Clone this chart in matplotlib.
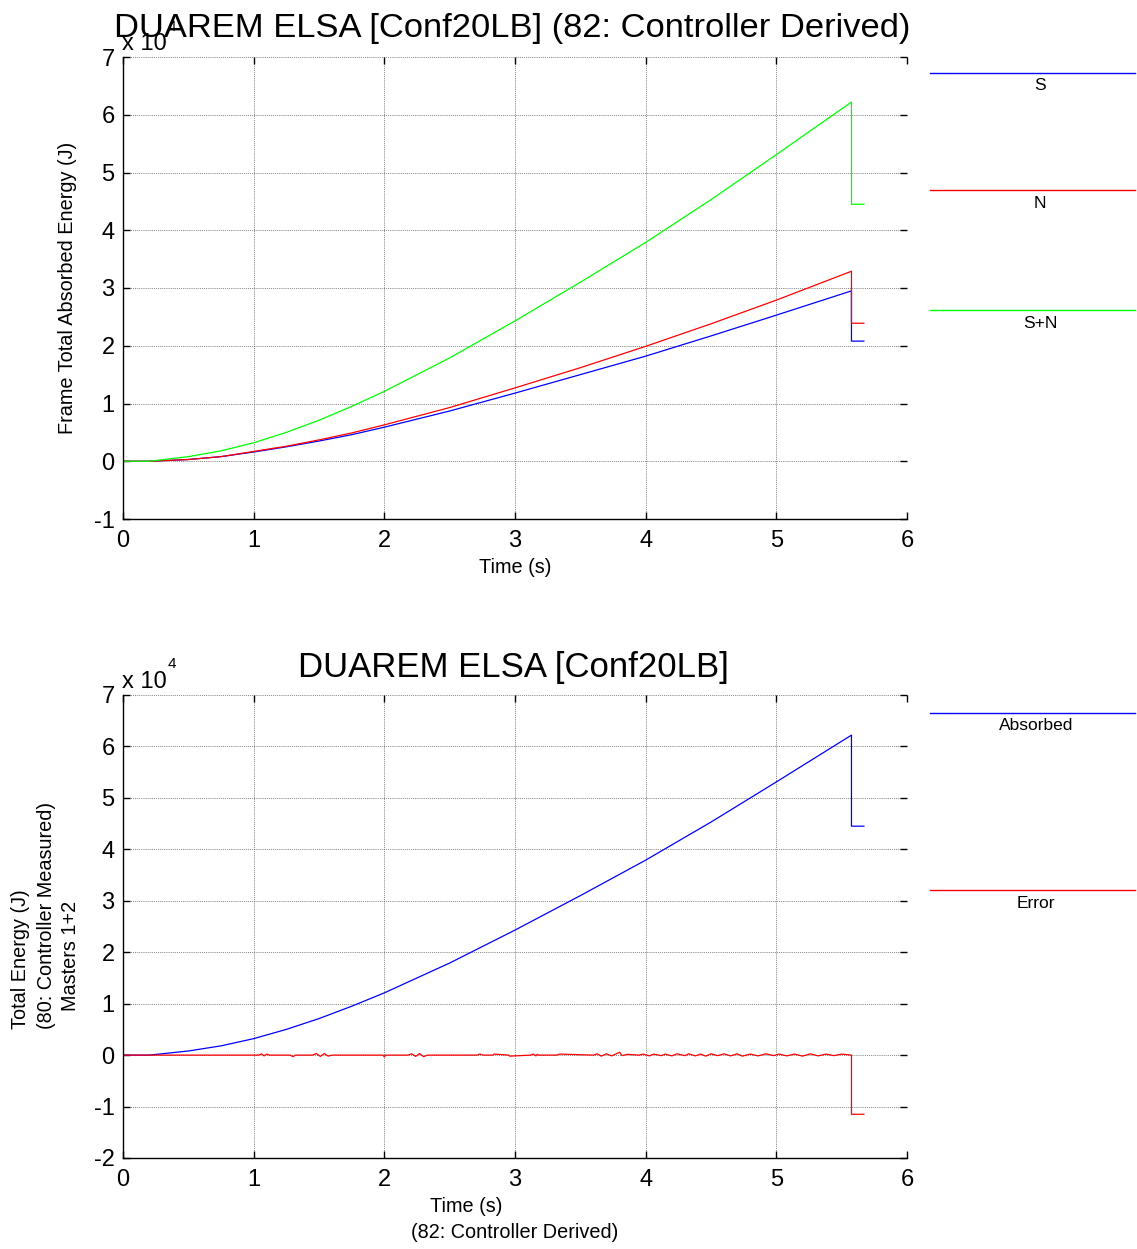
import matplotlib
matplotlib.use("Agg")
import matplotlib.pyplot as plt
from matplotlib.lines import Line2D
from matplotlib.ticker import FuncFormatter, FixedLocator

plt.rcParams['font.family'] = ['Liberation Sans', 'DejaVu Sans']

# ---- data (energies in J) ----
time_s = [0.0, 0.2, 0.5, 0.75, 1.0, 1.25, 1.5, 1.75, 2.0, 2.5, 3.0, 3.5, 4.0, 4.5, 5.0, 5.575, 5.575, 5.67]
energy_S = [0, 0, 300, 800, 1600, 2500, 3500, 4600, 5900, 8700, 11800, 15000, 18200, 21700, 25300, 29500, 20800, 20800]
energy_N = [0, 0, 300, 800, 1700, 2600, 3700, 4900, 6300, 9300, 12700, 16200, 19900, 23800, 27900, 32900, 23900, 23900]
energy_SN = [0, 0, 800, 1800, 3200, 5000, 7100, 9500, 12100, 17900, 24300, 31000, 37900, 45300, 53100, 62200, 44500, 44500]

absorbed_energy = energy_SN

err_time = [0.0, 1.04, 1.06, 1.08, 1.10, 1.12, 1.28, 1.30, 1.32, 1.45, 1.48, 1.51, 1.54, 1.57, 1.60,
            1.99, 2.00, 2.01, 2.18, 2.21, 2.24, 2.27, 2.30, 2.33, 2.71, 2.73, 2.76, 2.83, 2.84, 2.95, 2.96,
            3.12, 3.14, 3.16, 3.17, 3.18, 3.32, 3.34, 3.60, 3.63, 3.66, 3.70, 3.74, 3.77, 3.80, 3.82, 3.86,
            3.95, 3.98, 4.03, 4.06, 4.12, 4.15, 4.20, 4.24, 4.30, 4.33, 4.38, 4.42, 4.46, 4.50, 4.55, 4.60,
            4.65, 4.70, 4.74, 4.80, 4.86, 4.92, 4.98, 5.02, 5.08, 5.14, 5.20, 5.26, 5.32, 5.38, 5.44, 5.50,
            5.575, 5.575, 5.67]
err_value = [0, 0, 250, -150, 200, 0, 0, -300, 0, 0, 300, -250, 300, -200, 0,
             0, -350, 0, 0, 250, -250, 300, -300, 0, 0, 200, 0, 0, 200, 0, -200,
             0, 200, -150, 150, 0, 0, 200, 0, 250, -200, 250, -150, 200, 550, -100, 150,
             0, 200, -150, 200, -100, 200, -150, 250, -100, 250, -150, 200, -200, 250, -100, 250,
             -150, 250, -200, 200, -150, 250, -100, 200, -150, 200, -200, 250, -150, 200, -100, 200,
             0, -11500, -11500]

# ---- figure ----
W, H = 1137, 1249
fig = plt.figure(figsize=(W / 100, H / 100), dpi=100)


def fx(px):
    return px / W


def fy(py):
    return 1 - py / H


def style_axes(ax, ylo, yhi):
    ax.set_xlim(0, 6)
    ax.set_ylim(ylo * 1e4, yhi * 1e4)
    ax.xaxis.set_major_locator(FixedLocator(range(0, 7)))
    ax.yaxis.set_major_locator(FixedLocator([v * 1e4 for v in range(ylo, yhi + 1)]))
    ax.yaxis.set_major_formatter(FuncFormatter(lambda v, p: f"{int(round(v / 1e4))}"))
    ax.tick_params(direction='in', length=5, width=1, top=True, right=True,
                   labelsize=17, pad=6, colors='black')
    ax.tick_params(axis='x', pad=8)
    ax.grid(True, color='#444444', linestyle=(0, (1, 1.3)), linewidth=0.6, alpha=0.85)
    ax.spines['top'].set_visible(False)
    ax.spines['right'].set_visible(False)
    for s in ('left', 'bottom'):
        ax.spines[s].set_linewidth(1.0)
    ax.set_axisbelow(True)


# top panel
ax1 = fig.add_axes([fx(123), fy(519), fx(907 - 123), (519 - 57) / H])
style_axes(ax1, -1, 7)
ax1.plot(time_s, energy_S, color=(0, 0, 1), lw=0.9)
ax1.plot(time_s, energy_N, color=(1, 0, 0), lw=0.9)
ax1.plot(time_s, energy_SN, color=(0, 1, 0), lw=0.9)
ax1.set_xlabel('Time (s)', fontsize=14.3, labelpad=4)
ax1.set_ylabel('Frame Total Absorbed Energy (J)', fontsize=14.3, labelpad=12)
fig.text(fx(512), fy(37), 'DUAREM ELSA [Conf20LB] (82: Controller Derived)',
         ha='center', va='baseline', fontsize=24.8)
fig.text(fx(122), fy(50), 'x 10', ha='left', va='baseline', fontsize=17)
fig.text(fx(168), fy(31), '4', ha='left', va='baseline', fontsize=11)

# bottom panel
ax2 = fig.add_axes([fx(123), fy(1158), fx(907 - 123), (1158 - 695) / H])
style_axes(ax2, -2, 7)
ax2.plot(time_s, absorbed_energy, color=(0, 0, 1), lw=0.9)
ax2.plot(err_time, err_value, color=(1, 0, 0), lw=0.9)
fig.text(fx(513), fy(677), 'DUAREM ELSA [Conf20LB]', ha='center', va='baseline', fontsize=25)
fig.text(fx(122), fy(688), 'x 10', ha='left', va='baseline', fontsize=17)
fig.text(fx(168), fy(668), '4', ha='left', va='baseline', fontsize=11)

fig.text(fx(466), fy(1206), 'Time (s)', ha='center', va='center', fontsize=14.3)
fig.text(fx(515), fy(1232), '(82: Controller Derived)', ha='center', va='center', fontsize=14.3)
fig.text(fx(21), fy(1029), 'Total Energy (J)', rotation=90, ha='center', va='bottom', fontsize=14.3)
fig.text(fx(47), fy(1029), '(80: Controller Measured)', rotation=90, ha='center', va='bottom', fontsize=14.3)
fig.text(fx(71), fy(1011), 'Masters 1+2', rotation=90, ha='center', va='bottom', fontsize=14.3)

# legend entries on the right
legend_items = [
    ('S', (0, 0, 1), 73),
    ('N', (1, 0, 0), 190),
    ('S+N', (0, 1, 0), 310),
    ('Absorbed', (0, 0, 1), 713),
    ('Error', (1, 0, 0), 890),
]
for label, col, ypx in legend_items:
    fig.add_artist(Line2D([fx(930), fx(1135)], [fy(ypx), fy(ypx)], color=col, lw=1.0,
                          transform=fig.transFigure))
    xc = 1040 if ypx < 400 else 1036
    fig.text(fx(xc), fy(ypx + 13), label, ha='center', va='center', fontsize=12.5)

fig.savefig('out.png', dpi=100, facecolor='white')
